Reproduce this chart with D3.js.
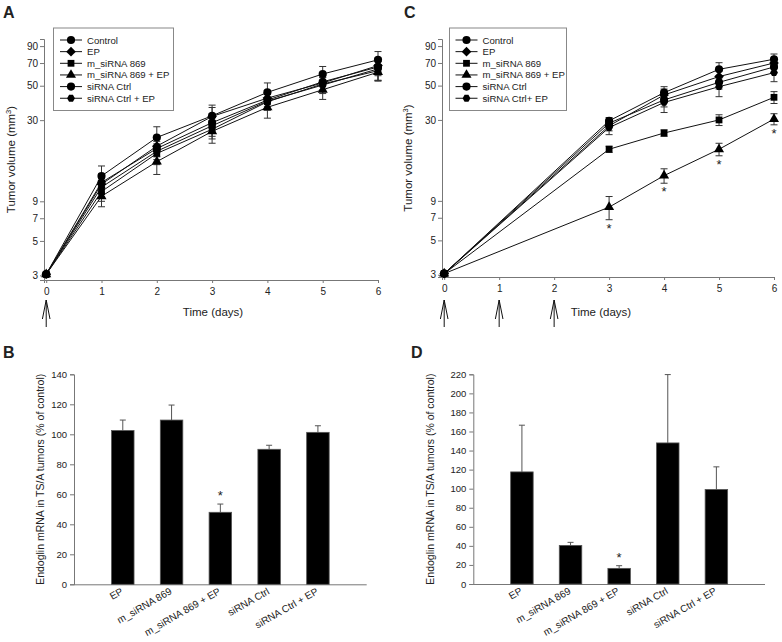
<!DOCTYPE html>
<html><head><meta charset="utf-8">
<script src="https://cdn.jsdelivr.net/npm/d3@7/dist/d3.min.js"></script>
<style>
body{margin:0;background:#fff}
svg{display:block}
text{font-family:"Liberation Sans",Arial,sans-serif;fill:#222}
</style>
</head><body>
<svg id="chart" width="782" height="642"></svg>
<script>
// ---------------- DATA ----------------
const seriesNamesA = ["Control", "EP", "m_siRNA 869", "m_siRNA 869 + EP", "siRNA Ctrl", "siRNA Ctrl + EP"];
const seriesNamesC = ["Control", "EP", "m_siRNA 869", "m_siRNA 869 + EP", "siRNA Ctrl", "siRNA Ctrl+ EP"];
const markerTypes = ["circle", "diamond", "square", "triangle", "circle", "hexagon"];

const daysA = [0, 1, 2, 3, 4, 5, 6];
const controlA    = [3.05, 13.1, 23.2, 32.0, 45.3, 59.5, 73.4];
const controlAErr = [0, 2.1, 4.0, 5.5, 6.8, 7.0, 9.6];
const epA         = [3.05, 11.6, 20.4, 31.7, 41.6, 52.1, 67.4];
const epAErr      = [0, 1.5, 3.0, 4.5, 5.0, 6.0, 8.0];
const m869A       = [3.05, 10.4, 18.3, 26.2, 39.4, 51.3, 62.5];
const m869AErr    = [0, 1.4, 2.8, 3.5, 4.5, 5.5, 9.0];
const m869EpA     = [3.05, 9.7, 16.2, 25.4, 36.3, 47.1, 61.1];
const m869EpAErr  = [0, 1.4, 2.8, 4.1, 5.4, 6.3, 7.0];
const siCtrlA     = [3.05, 11.9, 19.7, 28.9, 40.4, 53.0, 66.0];
const siCtrlAErr  = [0, 1.6, 3.0, 4.0, 5.0, 6.0, 8.0];
const siCtrlEpA   = [3.05, 11.1, 18.9, 27.6, 39.8, 50.5, 64.2];
const siCtrlEpAErr= [0, 1.5, 3.0, 4.0, 5.0, 6.0, 10.0];

const daysC = [0, 3, 4, 5, 6];
const controlC    = [3.05, 29.6, 45.0, 63.7, 74.0];
const controlCErr = [0, 1.5, 4.2, 6.6, 6.0];
const epC         = [3.05, 27.5, 43.5, 57.2, 70.0];
const epCErr      = [0, 2.0, 4.0, 5.0, 5.0];
const m869C       = [3.05, 19.4, 24.7, 30.0, 42.0];
const m869CErr    = [0, 0.9, 1.2, 2.4, 3.7];
const m869EpC     = [3.05, 8.2, 13.1, 19.4, 30.4];
const m869EpCErr  = [0, 1.4, 1.4, 1.8, 2.5];
const siCtrlC     = [3.05, 28.6, 40.4, 52.5, 66.0];
const siCtrlCErr  = [0, 1.5, 4.0, 5.0, 5.0];
const siCtrlEpC   = [3.05, 26.8, 38.9, 49.2, 60.6];
const siCtrlEpCErr= [0, 2.7, 5.4, 6.8, 7.6];
const starDaysC = [3, 4, 5, 6];

const logTicks = [3, 5, 7, 9, 30, 50, 70, 90];
const dayTicks = [0, 1, 2, 3, 4, 5, 6];
const injectionDaysA = [0];
const injectionDaysC = [0, 1, 2];

const barCategories = ["EP", "m_siRNA 869", "m_siRNA 869 + EP", "siRNA Ctrl", "siRNA Ctrl + EP"];
const barValuesB = [102.5, 109.5, 48.0, 90.0, 101.3];
const barErrB    = [7.0, 10.0, 5.5, 2.7, 4.4];
const barStarB   = ["m_siRNA 869 + EP"];
const barTicksB  = [0, 20, 40, 60, 80, 100, 120, 140];
const barValuesD = [117.6, 40.5, 16.4, 148.0, 99.2];
const barErrD    = [49.0, 3.2, 2.8, 71.7, 23.7];
const barStarD   = ["m_siRNA 869 + EP"];
const barTicksD  = [0, 20, 40, 60, 80, 100, 120, 140, 160, 180, 200, 220];

// ---------------- DRAW ----------------
const svg = d3.select("#chart");
const AXIS = "#777";

function markerPath(type) {
  if (type === "circle") return d3.symbol(d3.symbolCircle, 52)();
  if (type === "square") return d3.symbol(d3.symbolSquare, 46)();
  if (type === "triangle") return d3.symbol(d3.symbolTriangle, 44)();
  if (type === "diamond") { const r = 4.8; return `M0,${-r}L${r},0L0,${r}L${-r},0Z`; }
  if (type === "hexagon") {
    const r = 3.9; let p = "";
    for (let i = 0; i < 6; i++) { const a = Math.PI / 3 * i; p += (i ? "L" : "M") + (r * Math.cos(a)).toFixed(2) + "," + (r * Math.sin(a)).toFixed(2); }
    return p + "Z";
  }
}

function styleAxis(g) {
  g.selectAll(".domain").attr("stroke", AXIS);
  g.selectAll(".tick line").attr("stroke", AXIS);
  g.selectAll(".tick text").attr("fill", "#222").attr("font-family", '"Liberation Sans",Arial,sans-serif');
}

function linePanel(o) {
  const x = d3.scaleLinear().domain([-0.04, 6]).range([o.x0, o.x1]);
  const y = d3.scaleLog().domain(o.ydom).range([o.yBot, o.yTop]);
  const g = svg.append("g");

  const ya = g.append("g").attr("transform", `translate(${o.x0},0)`)
    .call(d3.axisLeft(y).tickValues(logTicks).tickFormat(d3.format("d")).tickSize(4).tickPadding(2));
  ya.attr("font-size", 10);
  styleAxis(ya);
  const xa = g.append("g").attr("transform", `translate(0,${o.yBot})`)
    .call(d3.axisBottom(x).tickValues(dayTicks).tickFormat(d3.format("d")).tickSize(3).tickPadding(5));
  xa.attr("font-size", 10);
  styleAxis(xa);

  // axis titles
  const yt = g.append("text").attr("transform", `translate(${o.ytx},${(o.yTop + o.yBot) / 2}) rotate(-90)`)
    .attr("text-anchor", "middle").attr("font-size", 11.5);
  yt.append("tspan").text("Tumor volume (mm");
  yt.append("tspan").text("3").attr("font-size", 7.5).attr("dy", -4.5);
  yt.append("tspan").text(")").attr("dy", 4.5);
  g.append("text").attr("x", o.xtx).attr("y", 315.5).attr("text-anchor", "middle").attr("font-size", 11.5).text("Time (days)");

  // injection arrows
  o.arrows.forEach(d => {
    const ax = x(d);
    g.append("path").attr("d", `M${ax},300V327M${ax - 3.8},319L${ax},300L${ax + 3.8},319`)
      .attr("fill", "none").attr("stroke", "#111").attr("stroke-width", 1);
  });

  const line = d3.line().x((d, i) => x(o.days[i])).y(d => y(d));
  o.series.forEach(s => {
    g.append("path").attr("d", line(s.v)).attr("fill", "none").attr("stroke", "#111").attr("stroke-width", 1);
  });
  o.series.forEach(s => {
    s.v.forEach((v, i) => {
      const e = s.e[i]; if (!e) return;
      const cx = x(o.days[i]), y1 = y(v + e), y2 = y(v - e);
      g.append("path").attr("d", `M${cx},${y1}V${y2}M${cx - 3.5},${y1}H${cx + 3.5}M${cx - 3.5},${y2}H${cx + 3.5}`)
        .attr("stroke", "#333").attr("stroke-width", 1).attr("fill", "none");
    });
  });
  o.series.forEach((s, k) => {
    s.v.forEach((v, i) => {
      g.append("path").attr("d", markerPath(markerTypes[k]))
        .attr("transform", `translate(${x(o.days[i])},${y(v)})`).attr("fill", "#000");
    });
  });
  if (o.stars) {
    const s = o.series[3];
    o.stars.forEach(d => {
      const i = o.days.indexOf(d);
      g.append("text").attr("x", x(d)).attr("y", y(s.v[i] - s.e[i]) + 13)
        .attr("text-anchor", "middle").attr("font-size", 13).text("*");
    });
  }

  // legend
  const lg = g.append("g");
  lg.append("rect").attr("x", o.lg.x).attr("y", 28).attr("width", o.lg.w).attr("height", 82.5)
    .attr("fill", "#fff").attr("stroke", "#888").attr("stroke-width", 1);
  o.names.forEach((n, k) => {
    const ly = 40 + k * 11.65;
    const mx = o.lg.x + o.lg.m;
    lg.append("line").attr("x1", mx - 11).attr("x2", mx + 11).attr("y1", ly).attr("y2", ly).attr("stroke", "#111");
    lg.append("path").attr("d", markerPath(markerTypes[k])).attr("transform", `translate(${mx},${ly})`).attr("fill", "#000");
    lg.append("text").attr("x", mx + 16).attr("y", ly + 3.5).attr("font-size", 9.6).text(n);
  });

  g.append("text").attr("x", o.lx).attr("y", 18).attr("font-size", 16).attr("font-weight", "bold").attr("fill", "#000").text(o.label);
}

linePanel({
  label: "A", lx: 3, x0: 44, x1: 378, yTop: 39, yBot: 280, ydom: [2.8, 100], ytx: 15, xtx: 213,
  days: daysA, arrows: injectionDaysA, names: seriesNamesA, lg: {x: 53.5, w: 120, m: 17.5},
  series: [
    {v: controlA, e: controlAErr}, {v: epA, e: epAErr}, {v: m869A, e: m869AErr},
    {v: m869EpA, e: m869EpAErr}, {v: siCtrlA, e: siCtrlAErr}, {v: siCtrlEpA, e: siCtrlEpAErr}
  ]
});
linePanel({
  label: "C", lx: 404, x0: 442, x1: 774, yTop: 39, yBot: 277, ydom: [2.9, 100], ytx: 412, xtx: 601,
  days: daysC, arrows: injectionDaysC, names: seriesNamesC, lg: {x: 449.5, w: 117, m: 17}, stars: starDaysC,
  series: [
    {v: controlC, e: controlCErr}, {v: epC, e: epCErr}, {v: m869C, e: m869CErr},
    {v: m869EpC, e: m869EpCErr}, {v: siCtrlC, e: siCtrlCErr}, {v: siCtrlEpC, e: siCtrlEpCErr}
  ]
});

function barPanel(o) {
  const g = svg.append("g");
  const step = (o.x1 - o.x0) / 6;
  const x = d3.scalePoint().domain(barCategories).range([o.x0 + step, o.x1 - step]);
  const y = d3.scaleLinear().domain([0, o.max]).range([o.yBot, o.yTop]);
  const bw = 22.5;

  const ya = g.append("g").attr("transform", `translate(${o.x0},0)`)
    .call(d3.axisLeft(y).tickValues(o.ticks).tickSize(4).tickPadding(3));
  ya.attr("font-size", 9.5);
  styleAxis(ya);
  const xa = g.append("g").attr("transform", `translate(0,${o.yBot})`)
    .call(d3.axisBottom(x).tickSize(0).tickFormat(""));
  styleAxis(xa);
  xa.select(".domain").attr("d", `M${o.x0},0.5H${o.x1}`);

  o.values.forEach((v, i) => {
    const cx = x(barCategories[i]);
    const yt = y(v + o.err[i]);
    g.append("path").attr("d", `M${cx},${y(v)}V${yt}M${cx - 3},${yt}H${cx + 3}`).attr("stroke", "#555").attr("fill", "none");
    g.append("rect").attr("x", cx - bw / 2).attr("y", y(v)).attr("width", bw).attr("height", o.yBot - y(v))
      .attr("fill", "#000").attr("stroke", "#555").attr("stroke-width", 0.8);
    if (o.stars.includes(barCategories[i])) {
      g.append("text").attr("x", cx).attr("y", yt - 4).attr("text-anchor", "middle").attr("font-size", 13).text("*");
    }
    g.append("text").attr("transform", `translate(${cx + 1},${o.yBot + 9}) rotate(-30)`)
      .attr("text-anchor", "end").attr("font-size", 10).text(barCategories[i]);
  });

  g.append("text").attr("transform", `translate(${o.ytx},${(o.yTop + o.yBot) / 2}) rotate(-90)`)
    .attr("text-anchor", "middle").attr("font-size", 10.5).text("Endoglin mRNA in TS/A tumors (% of control)");
  g.append("text").attr("x", o.lx).attr("y", 358).attr("font-size", 16).attr("font-weight", "bold").attr("fill", "#000").text(o.label);
}

barPanel({label: "B", lx: 3, x0: 74, x1: 366.7, yTop: 374.3, yBot: 584.3, max: 140, ticks: barTicksB,
  values: barValuesB, err: barErrB, stars: barStarB, ytx: 44});
barPanel({label: "D", lx: 411, x0: 473.3, x1: 765, yTop: 374.3, yBot: 584, max: 220, ticks: barTicksD,
  values: barValuesD, err: barErrD, stars: barStarD, ytx: 434});
</script>
</body></html>
